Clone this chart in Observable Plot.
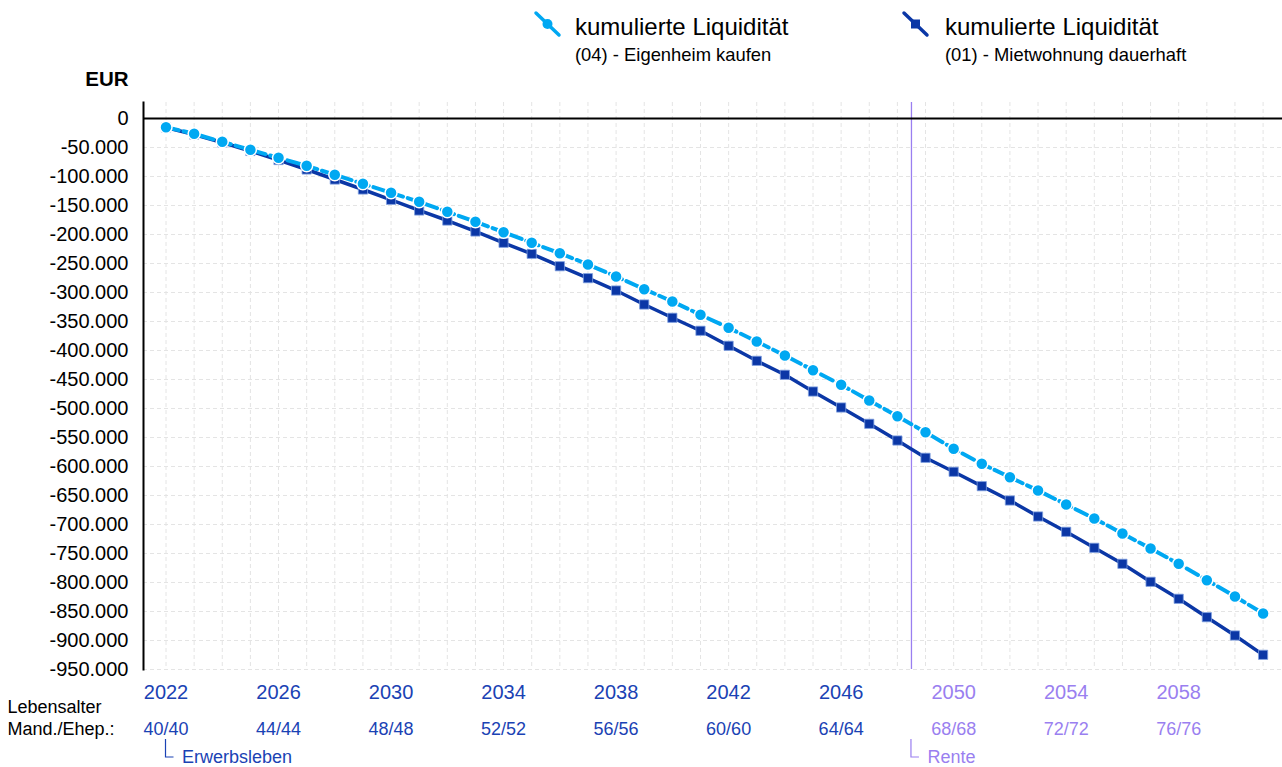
<!DOCTYPE html>
<html><head><meta charset="utf-8">
<script src="https://cdn.jsdelivr.net/npm/d3@7"></script>
<script src="https://cdn.jsdelivr.net/npm/@observablehq/plot@0.6"></script>
<style>
body{margin:0;background:#fff;font-family:"Liberation Sans",Arial,sans-serif;}
#wrap{position:relative;width:1282px;height:767px;overflow:hidden;}
#legend{position:absolute;left:0;top:0;pointer-events:none;}
#chart{position:absolute;left:0;top:0;}
</style></head>
<body><div id="wrap"><div id="chart"></div>
<svg id="legend" width="1282" height="80" font-family="Liberation Sans, Arial, sans-serif">
  <line x1="536" y1="13" x2="559" y2="35" stroke="#00a8f2" stroke-width="3.5" stroke-linecap="round"/>
  <circle cx="547.5" cy="24" r="5" fill="#00a8f2"/>
  <text x="575" y="34.5" font-size="24" fill="#000">kumulierte Liquidität</text>
  <text x="575" y="60.5" font-size="18.4" fill="#000">(04) - Eigenheim kaufen</text>
  <line x1="904" y1="13" x2="927" y2="35" stroke="#0b37a6" stroke-width="3.5" stroke-linecap="round"/>
  <rect x="911" y="19.5" width="9" height="9" fill="#0b37a6"/>
  <text x="945" y="34.5" font-size="24" fill="#000">kumulierte Liquidität</text>
  <text x="945" y="60.5" font-size="18.4" fill="#000">(01) - Mietwohnung dauerhaft</text>
</svg>
</div>
<script>
// ---- data ----
const years = [2022,2023,2024,2025,2026,2027,2028,2029,2030,2031,2032,2033,2034,2035,2036,2037,2038,2039,2040,2041,
               2042,2043,2044,2045,2046,2047,2048,2049,2050,2051,2052,2053,2054,2055,2056,2057,2058,2059,2060,2061];
const eigenheimKaufen = [-15000,-26400,-40200,-54000,-67800,-81600,-97100,-112600,-128100,-143600,
  -160900,-178100,-196000,-214300,-232200,-251700,-272400,-294300,-315500,-338500,
  -360900,-384500,-408600,-434000,-459100,-486200,-513300,-540900,-569500,-595400,
  -618500,-641400,-665500,-689700,-715500,-741400,-767800,-796000,-824100,-853400];
const mietwohnung = [-15500,-27600,-41400,-56000,-71600,-87900,-105200,-122400,-140200,-158600,
  -175900,-194800,-214300,-233300,-254700,-275300,-296600,-320700,-343600,-366000,
  -391900,-417800,-441900,-470700,-498300,-526400,-555200,-585000,-609100,-633900,
  -658600,-686200,-712600,-740200,-767800,-798800,-828100,-859800,-891400,-924700];
const yTicks = [0,-50000,-100000,-150000,-200000,-250000,-300000,-350000,-400000,-450000,
  -500000,-550000,-600000,-650000,-700000,-750000,-800000,-850000,-900000,-950000];
const yearLabels = [2022,2026,2030,2034,2038,2042,2046,2050,2054,2058];
const ageLabels = ["40/40","44/44","48/48","52/52","56/56","60/60","64/64","68/68","72/72","76/76"];
const retirementYear = 2048.5;
const phaseLabels = [{year: 2022, text: "Erwerbsleben"}, {year: retirementYear, text: "Rente"}];

// ---- styles ----
const LIGHT = "#00a8f2", DARK = "#0b37a6", BLUE = "#1a42b4", PURPLE = "#9a7ff0";
const GRID = "#e4e4e4";
const fmt = d => d === 0 ? "0" : "-" + (Math.abs(d) / 1000) + ".000";
const labelColor = y => y < retirementYear ? BLUE : PURPLE;

const rows = years.map((y, i) => ({year: y, a: eigenheimKaufen[i], b: mietwohnung[i]}));
const labelRows = yearLabels.map((y, i) => ({year: y, age: ageLabels[i]}));

function brackets(index, scales, values, dims) {
  const g = d3.create("svg:g");
  const yb = dims.height - dims.marginBottom;
  for (const p of phaseLabels) {
    const x = scales.x(p.year);
    g.append("path")
      .attr("d", `M${x},${yb + 70}V${yb + 88}H${x + 8}`)
      .attr("fill", "none").attr("stroke", labelColor(p.year)).attr("stroke-width", 1.2);
  }
  return g.node();
}

const chart = Plot.plot({
  width: 1282, height: 767,
  marginTop: 102, marginBottom: 98, marginLeft: 143, marginRight: 0,
  style: {fontFamily: "Liberation Sans, Arial, sans-serif", background: "#fff", overflow: "visible"},
  x: {domain: [2021.2, 2061.69], axis: null},
  y: {domain: [-950000, 27586], axis: null},
  marks: [
    Plot.gridX(years, {stroke: GRID, strokeOpacity: 1, strokeDasharray: "4,3", strokeWidth: 1}),
    Plot.gridY(yTicks.filter(d => d < 0), {stroke: GRID, strokeOpacity: 1, strokeDasharray: "4,3", strokeWidth: 1}),
    Plot.ruleX([retirementYear], {stroke: PURPLE, strokeWidth: 1.3}),
    Plot.ruleY([0], {stroke: "#000", strokeWidth: 2}),
    Plot.frame({anchor: "left", stroke: "#000", strokeWidth: 2}),
    Plot.line(rows, {x: "year", y: "b", stroke: DARK, strokeWidth: 3.5}),
    Plot.dot(rows, {x: "year", y: "b", symbol: "square", r: 5.2, fill: DARK, stroke: "#7f9fe0", strokeWidth: 0.8}),
    Plot.line(rows, {x: "year", y: "a", stroke: LIGHT, strokeWidth: 4, strokeDasharray: "13,5"}),
    Plot.dot(rows, {x: "year", y: "a", r: 6, fill: LIGHT, stroke: "#fff", strokeWidth: 1.5}),
    // y tick labels
    Plot.text(yTicks, {y: d => d, frameAnchor: "left", textAnchor: "end", lineAnchor: "middle", dx: -15, text: fmt, fontSize: 20, fill: "#000"}),
    Plot.text(["EUR"], {frameAnchor: "top-left", textAnchor: "end", lineAnchor: "middle", dx: -15, dy: -23, fontSize: 20.5, fontWeight: "bold", fill: "#000"}),
    // x labels
    Plot.text(labelRows.filter(d => d.year < retirementYear), {x: "year", text: d => String(d.year), frameAnchor: "bottom", textAnchor: "middle", lineAnchor: "middle", dy: 23.5, fontSize: 20, fill: BLUE}),
    Plot.text(labelRows.filter(d => d.year > retirementYear), {x: "year", text: d => String(d.year), frameAnchor: "bottom", textAnchor: "middle", lineAnchor: "middle", dy: 23.5, fontSize: 20, fill: PURPLE}),
    Plot.text(labelRows.filter(d => d.year < retirementYear), {x: "year", text: "age", frameAnchor: "bottom", textAnchor: "middle", lineAnchor: "middle", dy: 59.5, fontSize: 18, fill: BLUE}),
    Plot.text(labelRows.filter(d => d.year > retirementYear), {x: "year", text: "age", frameAnchor: "bottom", textAnchor: "middle", lineAnchor: "middle", dy: 59.5, fontSize: 18, fill: PURPLE}),
    Plot.text(["Lebensalter"], {frameAnchor: "bottom-left", textAnchor: "start", lineAnchor: "middle", dx: -136, dy: 38, fontSize: 18, fill: "#000"}),
    Plot.text(["Mand./Ehep.:"], {frameAnchor: "bottom-left", textAnchor: "start", lineAnchor: "middle", dx: -136, dy: 59.5, fontSize: 18, fill: "#000"}),
    // phase labels
    brackets,
    Plot.text(phaseLabels.filter(d => d.year < retirementYear), {x: "year", text: "text", frameAnchor: "bottom", textAnchor: "start", lineAnchor: "middle", dx: 16, dy: 88, fontSize: 18, fill: BLUE}),
    Plot.text(phaseLabels.filter(d => d.year >= retirementYear), {x: "year", text: "text", frameAnchor: "bottom", textAnchor: "start", lineAnchor: "middle", dx: 16, dy: 88, fontSize: 18, fill: PURPLE})
  ]
});
document.getElementById("chart").appendChild(chart);
</script>
</body></html>
